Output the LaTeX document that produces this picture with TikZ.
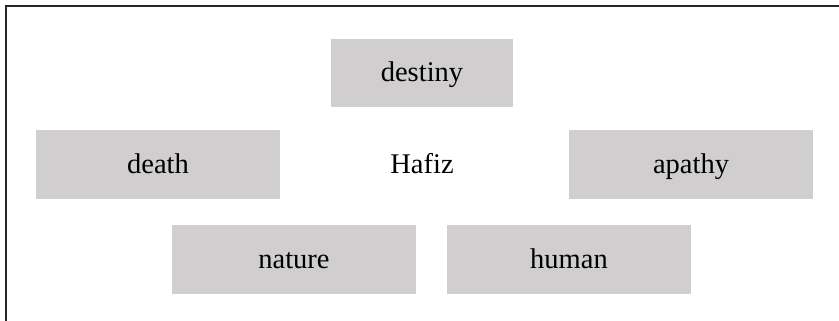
\documentclass[tikz,border=0pt]{standalone}
\usepackage{fontspec}
\setmainfont{Liberation Serif}
\definecolor{boxgray}{RGB}{208,206,206}
\begin{document}
\begin{tikzpicture}[x=1pt,y=-1pt,font=\fontsize{28.5}{30}\selectfont,
	label/.style={text height=20pt,text depth=2pt,inner sep=0pt},
	word/.style={label,fill=boxgray,minimum width=244pt,minimum height=69pt}]
	\useasboundingbox (0,0) rectangle (839,321);
	\path
	(5.5,321) coordinate (b)
	(5.5,6.5) coordinate (c)
	(839,6.5) coordinate (r)
	;
	\draw[line width=2pt,black!85] (b)--(c)--(r);
	\node[word,minimum width=182pt,minimum height=68pt] (destiny) at (422,73) {destiny};
	\node[word] (death) at (158,164.5) {death};
	\node[label] (hafiz) at (422,164.5) {Hafiz};
	\node[word] (apathy) at (691,164.5) {apathy};
	\node[word] (nature) at (294,259.5) {nature};
	\node[word] (human) at (569,259.5) {human};
\end{tikzpicture}
\end{document}
